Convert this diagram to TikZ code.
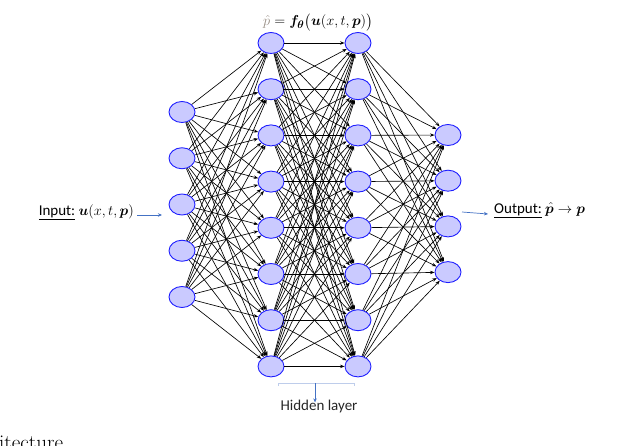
\documentclass[tikz,border=0pt]{standalone}
\usepackage{amsmath}
\usepackage{bm}
\usepackage{fontspec}
\newfontfamily\calfont{Carlito}
\usetikzlibrary{arrows.meta,shapes.geometric}
\definecolor{nfill}{RGB}{202,202,255}
\definecolor{nborder}{RGB}{30,30,255}
\definecolor{steel}{RGB}{68,114,196}
\definecolor{pale}{RGB}{190,205,235}
\definecolor{faded}{RGB}{150,140,130}
\begin{document}
\begin{tikzpicture}[x=1pt,y=-1pt,
  neuron/.style={ellipse,draw=nborder,fill=nfill,line width=0.9pt,minimum width=26pt,minimum height=21pt,inner sep=0pt},
  link/.style={line width=0.65pt,black,-{Stealth[length=4.5pt,width=3.4pt]}},
  bluearrow/.style={line width=0.7pt,steel,-{Stealth[length=4pt,width=3.5pt]}},
  lab/.style={font=\calfont\fontsize{15}{18}\selectfont,inner sep=0pt}
]
\useasboundingbox (0,0) rectangle (620,446);
% nodes
\foreach \i in {1,...,5} \node[neuron] (a\i) at (182,{112+46.25*(\i-1)}) {};
\foreach \i in {1,...,8} \node[neuron] (b\i) at (271,{43+46.2*(\i-1)}) {};
\foreach \i in {1,...,8} \node[neuron] (c\i) at (358,{43+46.2*(\i-1)}) {};
\foreach \i in {1,...,4} \node[neuron] (d\i) at (448,{135+45.7*(\i-1)}) {};
% links
\foreach \i in {1,...,5} \foreach \j in {1,...,8} \draw[link] (a\i) -- (b\j);
\foreach \i in {1,...,8} \foreach \j in {1,...,8} \draw[link] (b\i) -- (c\j);
\foreach \i in {1,...,8} \foreach \j in {1,...,4} \draw[link] (c\i) -- (d\j);
% top formula
\node[inner sep=0pt,anchor=base] (formula) at (318,26) {\fontsize{15}{18}\selectfont$\textcolor{faded}{\hat{p}} = \bm{f}_{\bm{\theta}}\big(\bm{u}(x,t,\bm{p})\big)$};
% input
\node[lab,anchor=base east] (inlab) at (134,215) {\underline{Input:}\ $\bm{u}(x,t,\bm{p})$};
\coordinate (inend) at (162,215);
\draw[bluearrow] ([xshift=3pt]inlab.base east) -- (inend);
% output
\coordinate (outstart) at (462,212);
\node[lab,anchor=base west] (outlab) at (494,213) {\underline{Output:}\ $\hat{\bm{p}}\rightarrow\bm{p}$};
\draw[bluearrow] (outstart) -- ([xshift=-6pt,yshift=-1pt]outlab.base west);
% hidden layer bracket
\coordinate (bl) at (278,383);
\coordinate (br) at (354,383);
\coordinate (bm) at (315,383);
\draw[pale,line width=0.5pt] ([yshift=-3pt]bl) -- (bl) -- (br) -- ([yshift=-3pt]br);
\node[lab,anchor=base,text=black!85] (hid) at (319,410) {Hidden layer};
\draw[bluearrow] (bm) -- ([yshift=-3pt]hid.north -| bm);
% clipped caption text at the bottom
\node[inner sep=0pt,anchor=base west,font=\fontsize{21}{24}\selectfont] (cap) at (-1,449) {itecture};
\end{tikzpicture}
\end{document}
